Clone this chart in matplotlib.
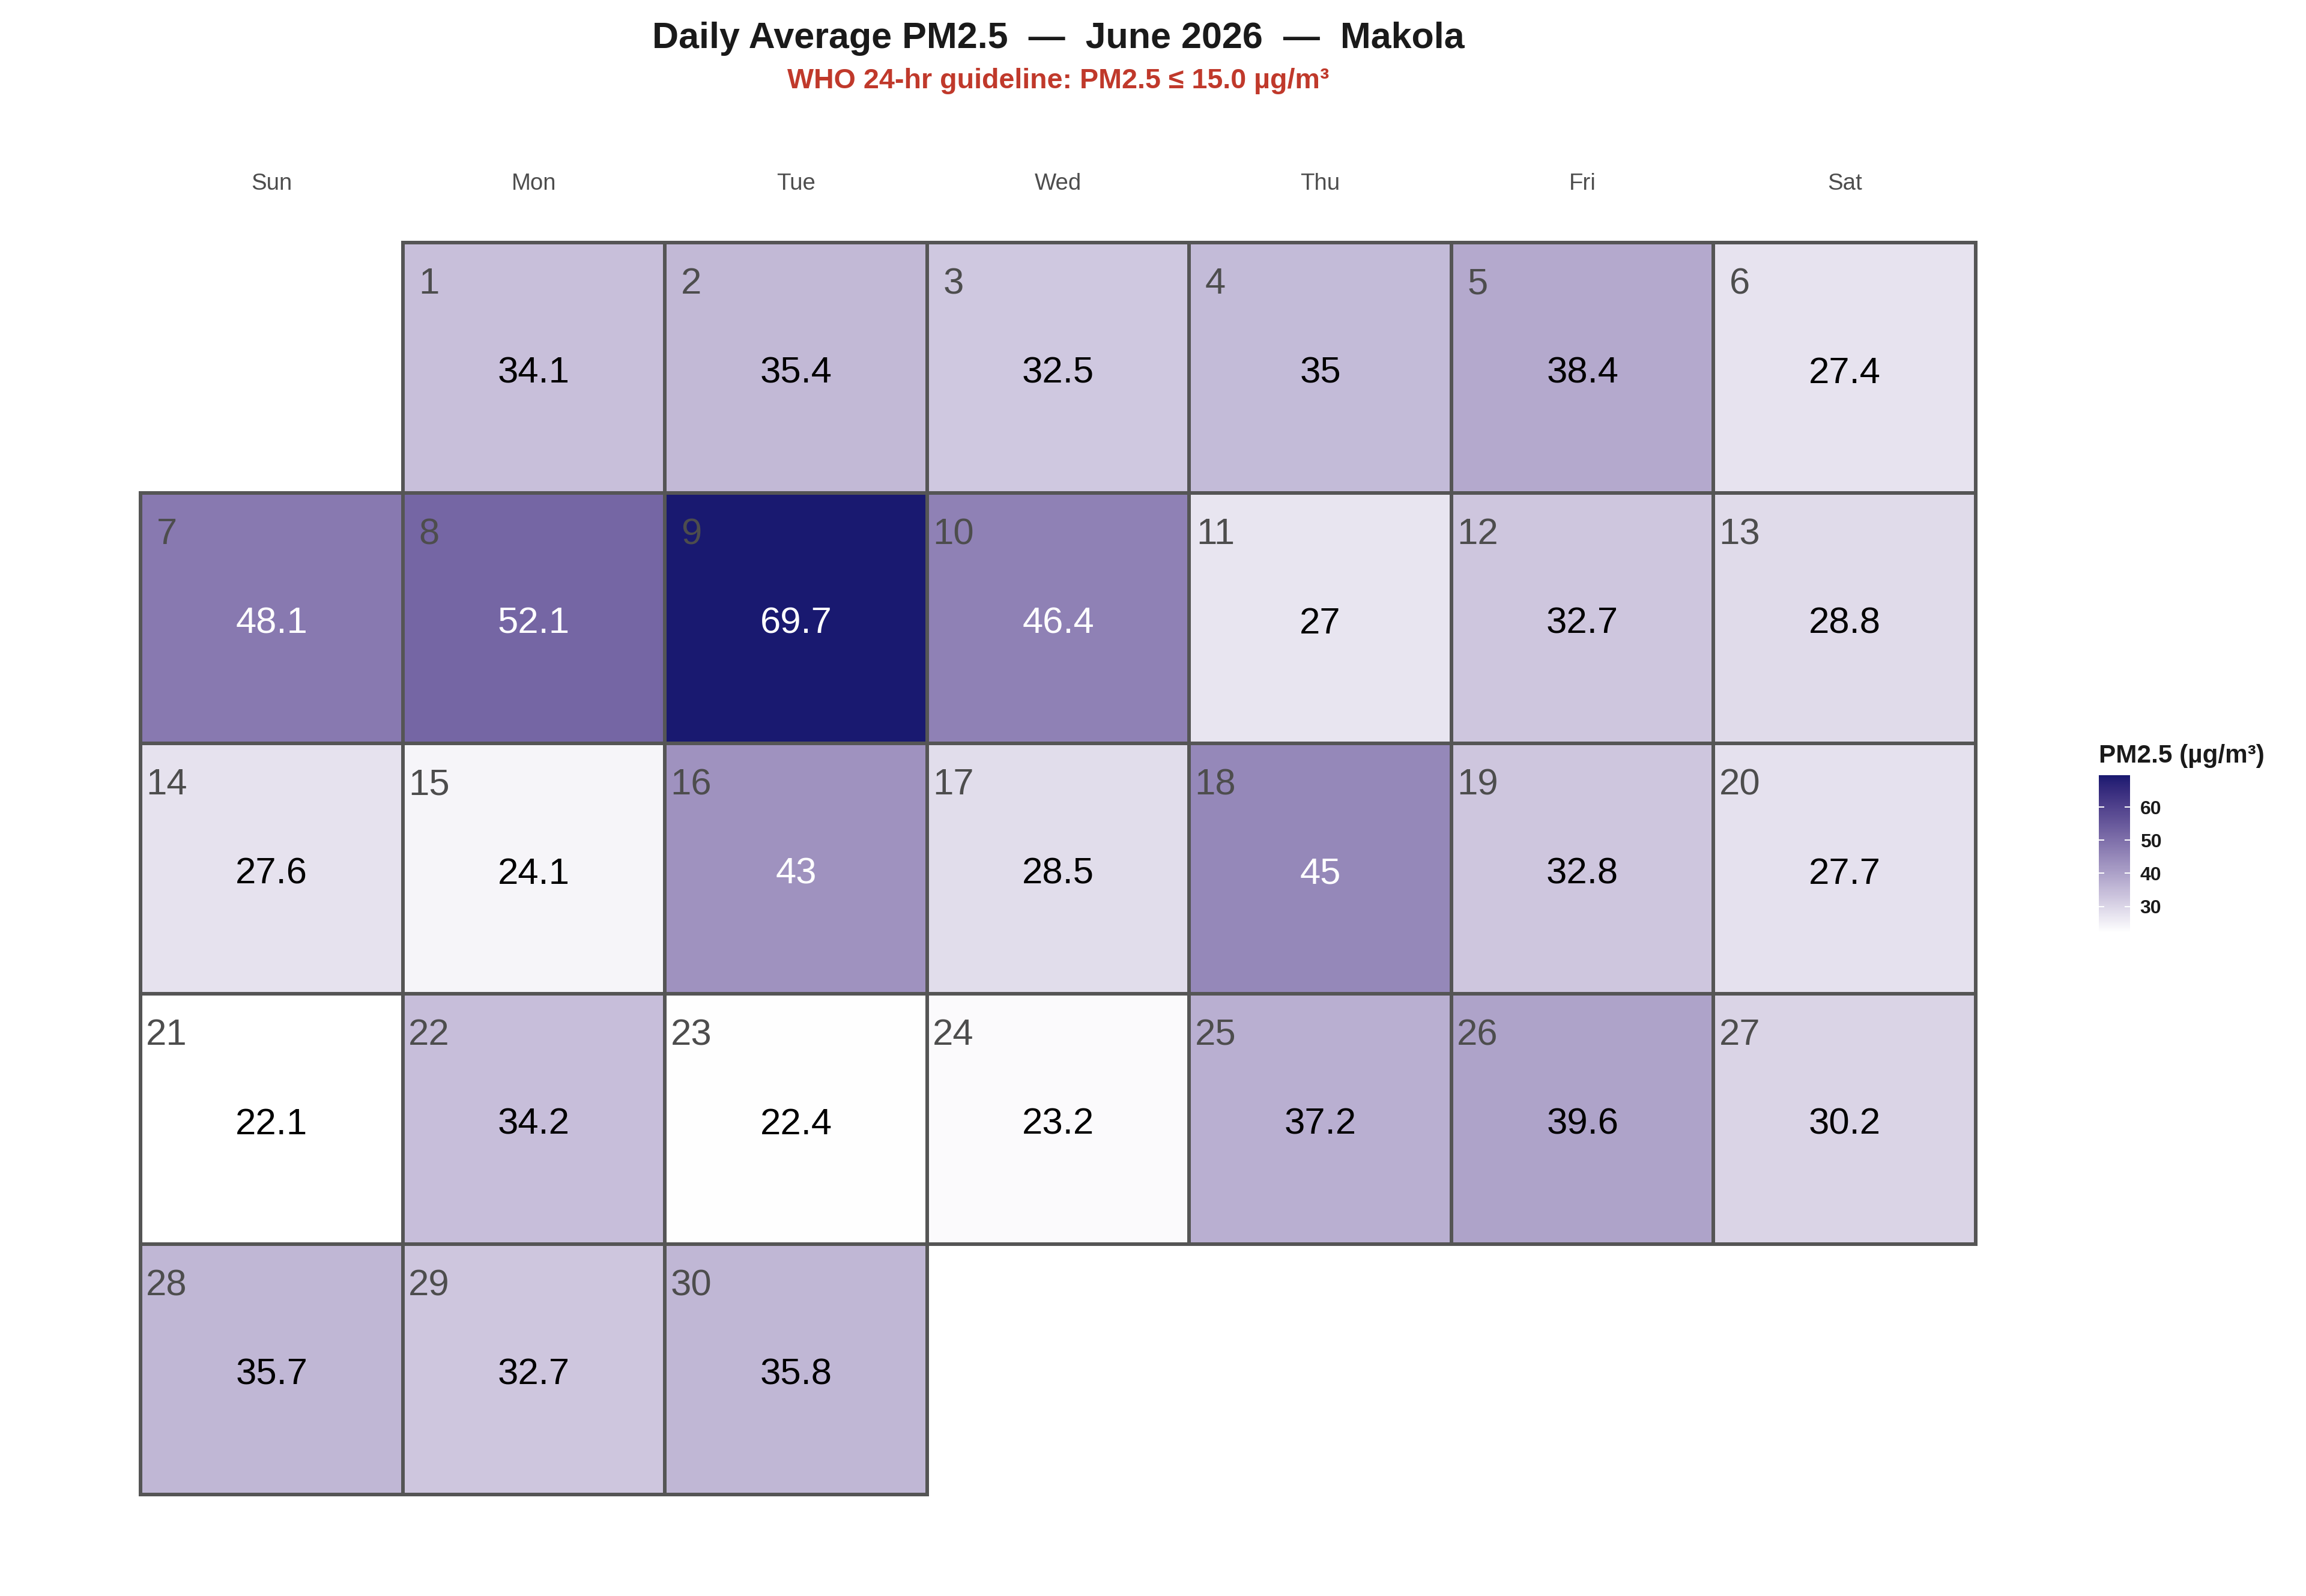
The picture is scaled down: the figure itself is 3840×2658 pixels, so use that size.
import datetime
import numpy as np
import matplotlib
matplotlib.use("Agg")
import matplotlib.pyplot as plt
from matplotlib.patches import Rectangle
from matplotlib.colors import ListedColormap, Normalize

plt.rcParams['font.family'] = ['Liberation Sans', 'DejaVu Sans']

# data
year, month = 2026, 6
days = list(range(1, 31))
pm25 = [34.1, 35.4, 32.5, 35.0, 38.4, 27.4,
        48.1, 52.1, 69.7, 46.4, 27.0, 32.7, 28.8,
        27.6, 24.1, 43.0, 28.5, 45.0, 32.8, 27.7,
        22.1, 34.2, 22.4, 23.2, 37.2, 39.6, 30.2,
        35.7, 32.7, 35.8]
weekdays = ["Sun", "Mon", "Tue", "Wed", "Thu", "Fri", "Sat"]
cbar_ticks = [30, 40, 50, 60]


# white -> midnightblue gradient interpolated in Lab (like ggplot)
def srgb_to_lab(rgb):
    c = np.asarray(rgb, float)
    lin = np.where(c <= 0.04045, c / 12.92, ((c + 0.055) / 1.055) ** 2.4)
    M = np.array([[0.4124, 0.3576, 0.1805],
                  [0.2126, 0.7152, 0.0722],
                  [0.0193, 0.1192, 0.9505]])
    xyz = M @ lin / np.array([0.95047, 1.0, 1.08883])
    f = np.where(xyz > 0.008856, np.cbrt(xyz), 7.787 * xyz + 16 / 116)
    return np.array([116 * f[1] - 16, 500 * (f[0] - f[1]), 200 * (f[1] - f[2])])


def lab_to_srgb(lab):
    L, a, b = lab
    fy = (L + 16) / 116
    fx = fy + a / 500
    fz = fy - b / 200
    f = np.array([fx, fy, fz])
    xyz = np.where(f ** 3 > 0.008856, f ** 3, (f - 16 / 116) / 7.787)
    xyz = xyz * np.array([0.95047, 1.0, 1.08883])
    Minv = np.array([[3.2406, -1.5372, -0.4986],
                     [-0.9689, 1.8758, 0.0415],
                     [0.0557, -0.2040, 1.0570]])
    lin = Minv @ xyz
    lin = np.clip(lin, 0, 1)
    c = np.where(lin <= 0.0031308, 12.92 * lin, 1.055 * lin ** (1 / 2.4) - 0.055)
    return np.clip(c, 0, 1)


lo = srgb_to_lab([1, 1, 1])
hi = srgb_to_lab(np.array([25, 25, 112]) / 255)
cmap = ListedColormap([lab_to_srgb(lo + t * (hi - lo)) for t in np.linspace(0, 1, 256)])
norm = Normalize(vmin=min(pm25), vmax=max(pm25))

W, H = 3840, 2658
fig = plt.figure(figsize=(W / 240, H / 240), dpi=240)
left, right, top, bottom = 234, 3290, 404, 2489
ax = fig.add_axes([left / W, 1 - bottom / H, (right - left) / W, (bottom - top) / H])
ax.set_xlim(0, 7)
ax.set_ylim(5, 0)
ax.axis('off')

offset = (datetime.date(year, month, 1).weekday() + 1) % 7
for d, v in zip(days, pm25):
    idx = offset + d - 1
    col, row = idx % 7, idx // 7
    ax.add_patch(Rectangle((col, row), 1, 1, facecolor=cmap(norm(v)),
                           edgecolor='#555555', linewidth=1.8, clip_on=False))
    ax.text(col + 0.1, row + 0.205, str(d), ha='center', va='baseline',
            fontsize=18.5, color='#4D4D4D')
    ax.text(col + 0.5, row + 0.56, f"{v:g}", ha='center', va='baseline',
            fontsize=18.5, color='white' if v > 42 else 'black')

for i, name in enumerate(weekdays):
    ax.text(i + 0.5, -0.235, name, ha='center', va='center', fontsize=11.5,
            color='#4D4D4D', clip_on=False)

cx = (left + right) / 2 / W
fig.text(cx, 1 - 80 / H, "Daily Average PM2.5  \u2014  June 2026  \u2014  Makola",
         ha='center', va='baseline', fontsize=18.3, fontweight='bold', color='#1a1a1a')
fig.text(cx, 1 - 147 / H, "WHO 24-hr guideline: PM2.5 \u2264 15.0 \u00b5g/m\u00b3",
         ha='center', va='baseline', fontsize=14, fontweight='bold', color='#C0392B')

# colorbar
cax = fig.add_axes([3495 / W, 1 - 1553 / H, 52 / W, 262 / H])
sm = plt.cm.ScalarMappable(norm=norm, cmap=cmap)
cbar = fig.colorbar(sm, cax=cax, ticks=cbar_ticks)
cbar.outline.set_visible(False)
cax.yaxis.set_ticks_position('both')
cax.tick_params(axis='y', direction='in', color='white', length=2.7, width=0.6,
                labelsize=9.6, pad=5, labelleft=False, labelright=True)
for lab in cax.get_yticklabels():
    lab.set_fontweight('bold')
    lab.set_color('#1a1a1a')
fig.text(3495 / W, 1 - 1270 / H, "PM2.5 (\u00b5g/m\u00b3)", ha='left', va='baseline',
         fontsize=12.7, fontweight='bold', color='#1a1a1a')

fig.savefig("out.png", dpi=240, facecolor='white')
